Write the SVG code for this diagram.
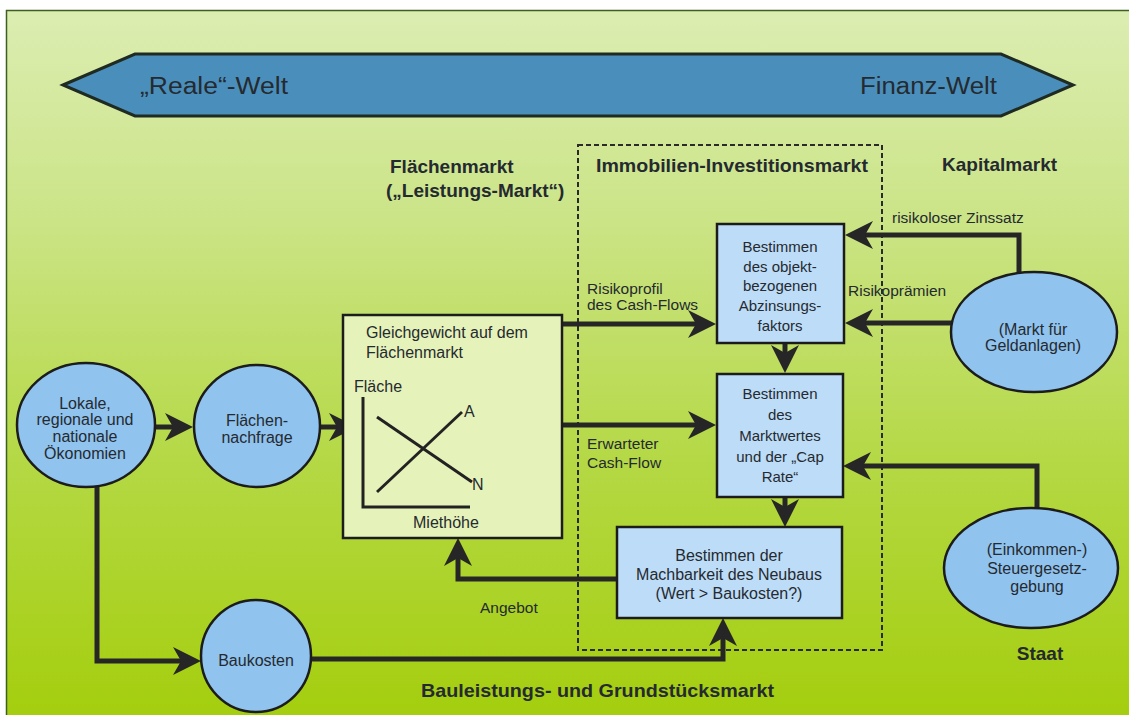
<svg xmlns="http://www.w3.org/2000/svg" width="1129" height="715" viewBox="0 0 1129 715">
<defs>
<linearGradient id="bg" x1="0" y1="0" x2="0" y2="1">
<stop offset="0" stop-color="#dcedb2"/>
<stop offset="0.3" stop-color="#cbe486"/>
<stop offset="0.65" stop-color="#b4d843"/>
<stop offset="1" stop-color="#a4ce0e"/>
</linearGradient>
<marker id="ah" viewBox="0 0 30 30" refX="16" refY="15" markerWidth="30" markerHeight="30" markerUnits="userSpaceOnUse" orient="auto">
<path d="M2,1 L30,15 L2,29 L10,15 Z" fill="#262626"/>
</marker>
<style>
.t{font-family:"Liberation Sans",Arial,sans-serif;fill:#252a30}
.n{font-size:15px;text-anchor:middle}
.n16{font-size:16px;text-anchor:middle}
.h{font-size:19px;font-weight:bold}
.l{font-size:15.5px}
.circ{fill:#90c3ee;stroke:#1c1c1c;stroke-width:2.5}
.box{fill:#bddcf7;stroke:#1c1c1c;stroke-width:2.5}
.con{fill:none;stroke:#262626;stroke-width:5;marker-end:url(#ah)}
.ax{stroke:#222;stroke-width:3;fill:none}
</style>
</defs>
<rect x="0" y="0" width="1129" height="715" fill="#ffffff"/>
<rect x="6" y="10" width="1123" height="705" fill="url(#bg)"/>
<path d="M6.5,715 V10.5 H1129" fill="none" stroke="#3e5e22" stroke-width="1.5"/>

<g id="banner">
<polygon points="63,85 135,54 1001,54 1073,85 1001,116 135,116" fill="#4a8fbb" stroke="#1f2a22" stroke-width="3"/>
<text class="t" x="140" y="94" font-size="23" textLength="148" lengthAdjust="spacingAndGlyphs">„Reale“-Welt</text>
<text class="t" x="860" y="94" font-size="23" textLength="137" lengthAdjust="spacingAndGlyphs">Finanz-Welt</text>
</g>

<g id="headers">
<text class="t h" x="390" y="173">Flächenmarkt</text>
<text class="t h" x="386" y="197">(„Leistungs-Markt“)</text>
<text class="t h" x="596" y="172" textLength="272" lengthAdjust="spacingAndGlyphs">Immobilien-Investitionsmarkt</text>
<text class="t h" x="942" y="171">Kapitalmarkt</text>
<text class="t h" x="421" y="697" textLength="353" lengthAdjust="spacingAndGlyphs">Bauleistungs- und Grundstücksmarkt</text>
<text class="t h" x="1040" y="660" text-anchor="middle">Staat</text>
</g>

<g id="investment-market-frame">
<rect x="578" y="145" width="304" height="505" fill="none" stroke="#2a2a2a" stroke-width="2" stroke-dasharray="5,3"/>
</g>

<g id="connectors">
<path class="con" d="M155,427 H179"/>
<path class="con" d="M320,427 H343"/>
<path class="con" d="M563,324 H702"/>
<path class="con" d="M563,425 H702"/>
<path class="con" d="M785,343 V359"/>
<path class="con" d="M785,497 V513"/>
<path class="con" d="M1019,272 V235 H859"/>
<path class="con" d="M952,323 H859"/>
<path class="con" d="M1037,507 V466 H857"/>
<path class="con" d="M617,579 H458 V552"/>
<path class="con" d="M97,487 V661 H187"/>
<path class="con" d="M312,659 H723 V632"/>
</g>

<g id="labels">
<text class="t l" x="587" y="294">Risikoprofil</text>
<text class="t l" x="587" y="310">des Cash-Flows</text>
<text class="t l" x="587" y="449">Erwarteter</text>
<text class="t l" x="587" y="468">Cash-Flow</text>
<text class="t l" x="892" y="223">risikoloser Zinssatz</text>
<text class="t l" x="848" y="296">Risikoprämien</text>
<text class="t l" x="480" y="613">Angebot</text>
</g>

<g id="lokale">
<ellipse class="circ" cx="86" cy="425" rx="69" ry="62"/>
<text class="t n16" x="85" y="409">Lokale,</text>
<text class="t n16" x="85" y="425">regionale und</text>
<text class="t n16" x="85" y="442">nationale</text>
<text class="t n16" x="85" y="459">Ökonomien</text>
</g>

<g id="flaechennachfrage">
<ellipse class="circ" cx="257" cy="426" rx="63" ry="61"/>
<text class="t n16" x="257" y="426">Flächen-</text>
<text class="t n16" x="257" y="443">nachfrage</text>
</g>

<g id="baukosten">
<ellipse class="circ" cx="256" cy="656" rx="55" ry="56"/>
<text class="t n16" x="256" y="666">Baukosten</text>
</g>

<g id="gleichgewicht">
<rect x="343" y="315" width="219" height="223" fill="#e5f2b9" stroke="#1c1c1c" stroke-width="2.5"/>
<text class="t" x="366" y="338" font-size="16">Gleichgewicht auf dem</text>
<text class="t" x="366" y="358" font-size="16">Flächenmarkt</text>
<text class="t" x="354" y="392" font-size="16">Fläche</text>
<path class="ax" d="M363,397 V507 H470"/>
<path class="ax" d="M377,492 L462,412"/>
<path class="ax" d="M377,417 L472,482"/>
<text class="t" x="464" y="417" font-size="16">A</text>
<text class="t" x="472" y="490" font-size="16">N</text>
<text class="t" x="413" y="528" font-size="16">Miethöhe</text>
</g>

<g id="abzinsung">
<rect class="box" x="717" y="224" width="127" height="119"/>
<text class="t n" x="780" y="252">Bestimmen</text>
<text class="t n" x="780" y="272">des objekt-</text>
<text class="t n" x="780" y="291">bezogenen</text>
<text class="t n" x="780" y="311">Abzinsungs-</text>
<text class="t n" x="780" y="331">faktors</text>
</g>

<g id="marktwert">
<rect class="box" x="717" y="374" width="126" height="123"/>
<text class="t n" x="780" y="399">Bestimmen</text>
<text class="t n" x="780" y="420">des</text>
<text class="t n" x="780" y="441">Marktwertes</text>
<text class="t n" x="780" y="462">und der „Cap</text>
<text class="t n" x="780" y="482">Rate“</text>
</g>

<g id="machbarkeit">
<rect class="box" x="617" y="527" width="225" height="91"/>
<text class="t n16" x="729" y="561">Bestimmen der</text>
<text class="t n16" x="729" y="580">Machbarkeit des Neubaus</text>
<text class="t n16" x="729" y="599">(Wert &gt; Baukosten?)</text>
</g>

<g id="geldanlagen">
<ellipse class="circ" cx="1034" cy="332" rx="83" ry="60"/>
<text class="t n16" x="1033" y="335">(Markt für</text>
<text class="t n16" x="1033" y="351">Geldanlagen)</text>
</g>

<g id="steuergesetz">
<ellipse class="circ" cx="1031" cy="568" rx="87" ry="60"/>
<text class="t n16" x="1037" y="555">(Einkommen-)</text>
<text class="t n16" x="1037" y="574">Steuergesetz-</text>
<text class="t n16" x="1037" y="592">gebung</text>
</g>
</svg>
